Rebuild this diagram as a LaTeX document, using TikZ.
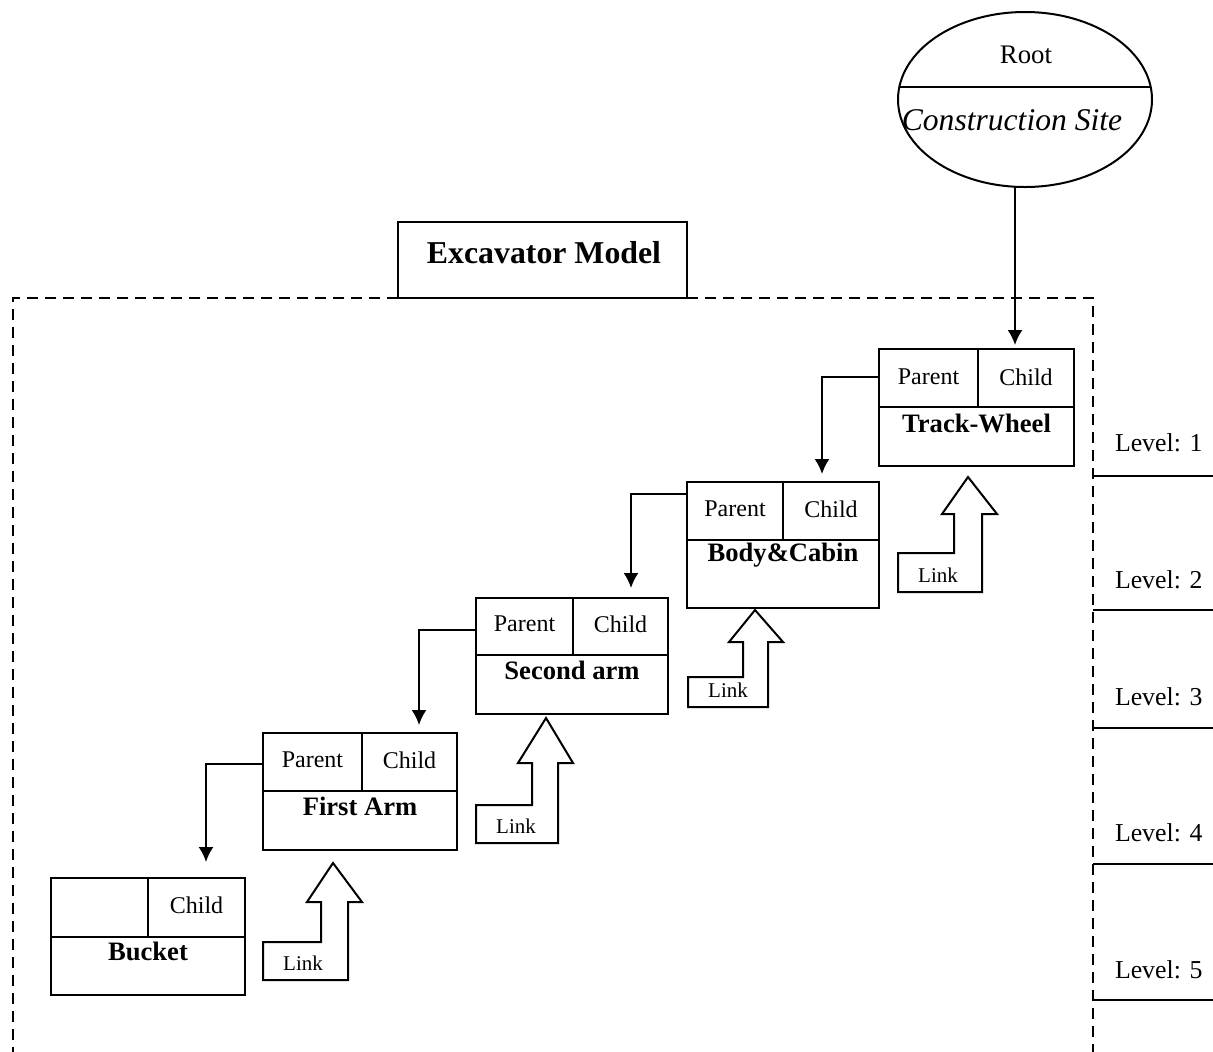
\documentclass[tikz,border=0pt]{standalone}
\usepackage{fontspec}
\setmainfont{Liberation Serif}
\usetikzlibrary{arrows.meta,calc,shapes.geometric}

\begin{document}
\begin{tikzpicture}[x=0.5pt,y=-0.5pt,
  line width=1pt,
  every node/.style={inner sep=0pt,outer sep=0pt},
  partbox/.style={draw,anchor=north west},
  cell/.style={font=\fontsize{12}{14}\selectfont},
  partname/.style={font=\fontsize{13.3}{15}\selectfont\bfseries},
  linktext/.style={font=\fontsize{10.5}{12}\selectfont},
  leveltext/.style={anchor=west,font=\fontsize{12.9}{15}\selectfont},
  arr/.style={-{Latex[length=7.5pt,width=7.5pt]}},
  boundary/.style={dash pattern=on 5.5pt off 3.5pt},
]
\clip (0,0) rectangle (1213,1051);

% ---- root of the scene graph
\node[draw,ellipse,minimum width=127pt,minimum height=87.5pt] (root) at (1025,99.5) {};
\draw (899.3,87) -- (1150.7,87);
\node[font=\fontsize{13.4}{15}\selectfont] (roottxt) at (1026,55) {Root};
\node[font=\fontsize{15.8}{18}\selectfont\itshape] (site) at (1012,120) {Construction Site};

% ---- model frame
\node[partbox,minimum width=144.5pt,minimum height=38pt] (model) at (398,222) {};
\node[font=\fontsize{15.9}{18}\selectfont\bfseries] (modeltxt) at (544,253) {Excavator Model};
\draw[boundary] (model.south west) -- (13,298) -- (13,1060);
\draw[boundary] (model.south east) -- (1093,298) -- (1093,1060);

% ---- level separators
\foreach \y in {476,610,728,864,1000} \draw (1093,\y) -- (1213,\y);
\node[leveltext] (lv1) at (1115,443) {Level: 1};
\node[leveltext] (lv2) at (1115,580) {Level: 2};
\node[leveltext] (lv3) at (1115,697) {Level: 3};
\node[leveltext] (lv4) at (1115,833) {Level: 4};
\node[leveltext] (lv5) at (1115,970) {Level: 5};

% ---- part boxes: frame, split line, divider, labels
% Track-Wheel
\node[partbox,minimum width=97.5pt,minimum height=58.5pt] (tw) at (879,349) {};
\draw (879,407) -- (1074,407) (978,349) -- (978,407);
\node[cell] (twp) at (928.5,377) {Parent};
\node[cell] (twc) at (1026,377) {Child};
\node[partname] (twn) at (976.5,423) {Track-Wheel};
% Body&Cabin
\node[partbox,minimum width=96pt,minimum height=63pt] (bc) at (687,482) {};
\draw (687,540) -- (879,540) (783,482) -- (783,540);
\node[cell] (bcp) at (735,509) {Parent};
\node[cell] (bcc) at (831,509) {Child};
\node[partname] (bcn) at (783,555) {Body\&Cabin};
% Second arm
\node[partbox,minimum width=96pt,minimum height=58pt] (sa) at (476,598) {};
\draw (476,655) -- (668,655) (573,598) -- (573,655);
\node[cell] (sap) at (524.5,624) {Parent};
\node[cell] (sac) at (620.5,624) {Child};
\node[partname] (san) at (572,670) {Second arm};
% First Arm
\node[partbox,minimum width=97pt,minimum height=58.5pt] (fa) at (263,733) {};
\draw (263,791) -- (457,791) (362,733) -- (362,791);
\node[cell] (fap) at (312.5,760) {Parent};
\node[cell] (fac) at (409.5,760) {Child};
\node[partname] (fan) at (360,806) {First Arm};
% Bucket
\node[partbox,minimum width=97pt,minimum height=58.5pt] (bk) at (51,878) {};
\draw (51,937) -- (245,937) (148,878) -- (148,937);
\node[cell] (bkc) at (196.5,905) {Child};
\node[partname] (bkn) at (148,951) {Bucket};

% ---- parent -> child connectors
\coordinate (rootout) at ($(root.south)+(-10,0)$);
\draw[arr,shorten >=2pt] (rootout) -- (rootout |- tw.north);
\draw[arr,shorten >=4pt] ($(tw.north west)+(0,28)$) -| ($(bc.north west)+(135,0)$);
\draw[arr,shorten >=5pt] ($(bc.north west)+(0,12)$) -| ($(sa.north west)+(155,0)$);
\draw[arr,shorten >=4pt] ($(sa.north west)+(0,32)$) -| ($(fa.north west)+(156,0)$);
\draw[arr,shorten >=8pt] ($(fa.north west)+(0,31)$) -| ($(bk.north west)+(155,0)$);

% ---- link arrows
% base x/y, step height, head base height, tip height,
% inner shaft x, left wing x, tip x, right wing x, outer shaft x
\foreach \bx/\by/\hA/\hB/\hC/\wA/\wB/\wC/\wD/\wE/\nm in {
    898/592/39/78/115/56/44/70/99/84/l1,
    688/707/30/65/97/55/41/67/95/80/l2,
    476/843/38/80/125/56/42/70/97/82/l3,
    263/980/38/78/117/58/44/70/99/85/l4}{
  \draw[line join=miter] (\bx,\by) -- (\bx,\by-\hA) -- (\bx+\wA,\by-\hA) -- (\bx+\wA,\by-\hB)
    -- (\bx+\wB,\by-\hB) -- (\bx+\wC,\by-\hC) -- (\bx+\wD,\by-\hB) -- (\bx+\wE,\by-\hB)
    -- (\bx+\wE,\by) -- cycle;
  \node[linktext] (\nm) at (\bx+40,\by-17) {Link};
}
\end{tikzpicture}
\end{document}
